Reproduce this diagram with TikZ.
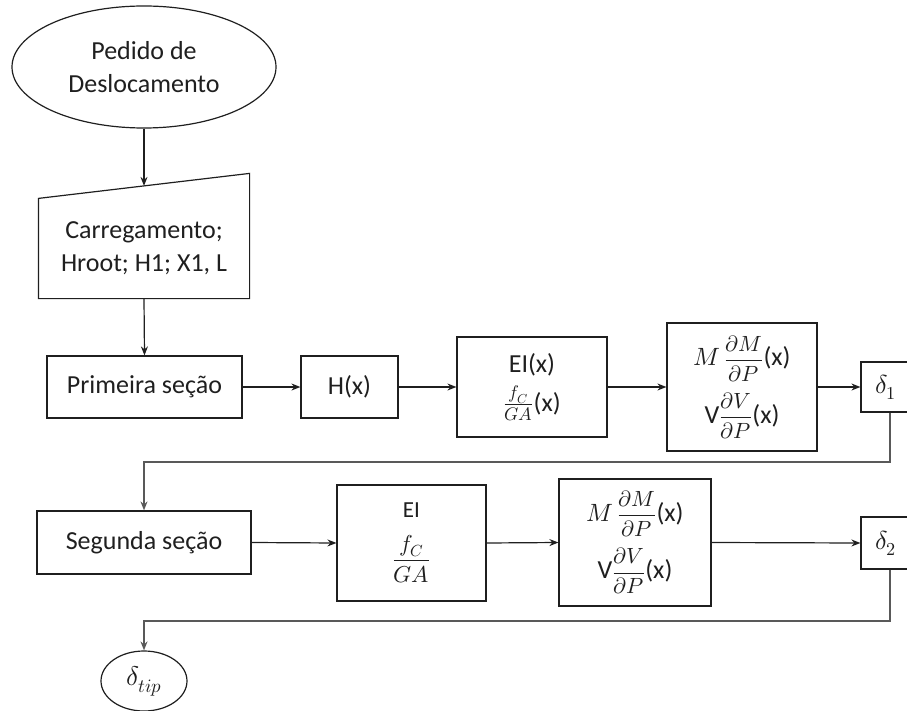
\documentclass[tikz,border=0pt]{standalone}
\usepackage{fontspec}
\usepackage{unicode-math}
\setmainfont{Carlito}
\setmathfont{Latin Modern Math}
\usetikzlibrary{shapes.geometric,arrows.meta,calc}

\definecolor{ink}{HTML}{1F1F1F}
\definecolor{wire}{HTML}{595959}

% math set a little smaller than the text, fractions in display style
\newcommand{\mth}[1]{{\fontsize{22}{26}\selectfont$\displaystyle #1$}}
\newcommand{\bigM}{{\fontsize{25}{26}\selectfont$M$}}

\tikzset{
  base/.style={draw=ink, text=ink, line width=1.2pt, inner sep=0pt, align=center,
               font=\fontsize{26}{33}\selectfont},
  box/.style={base, rectangle},
  oval/.style={base, ellipse},
  ghost/.style={base, draw=none},
  arr/.style={draw=ink, line width=1.2pt, -{Stealth[length=9pt,width=7pt]}},
  elbow/.style={draw=wire, line width=1.4pt, -{Stealth[length=9pt,width=7pt]}},
}

\begin{document}
\begin{tikzpicture}[x=1pt,y=-1pt]
\useasboundingbox (0,0) rectangle (907,711);

% start / input
\node[oval, minimum width=264, minimum height=122] (start) at (144,67) {Pedido de\\Deslocamento};
\node[ghost, minimum width=210, minimum height=99] (inp) at (144,248.5) {Carregamento;\\Hroot; H1; X1, L};
\draw[draw=ink, line width=1.2pt, line join=miter]
  (inp.south west) -- (inp.south east) -- ([yshift=25pt]inp.north east) -- (inp.north west) -- cycle;
\coordinate (inptop) at ($(inp.north)+(0,-12.5)$);

% first section
\node[box, minimum width=195, minimum height=62] (prim) at (144.5,387) {Primeira seção};
\node[box, minimum width=97, minimum height=62] (hx) at (349.5,387) {H(x)};
\node[box, minimum width=150, minimum height=100] (ei1) at (532,387)
  {EI(x)\\[6pt]$\frac{f_C}{GA}$(x)};
\node[box, minimum width=150, minimum height=128] (m1) at (742,387)
  {\bigM\,\mth{\frac{\partial M}{\partial P}}(x)\\[10pt]V\mth{\frac{\partial V}{\partial P}}(x)};
\node[box, minimum width=50, minimum height=50] (d1) at (886,387) {$\delta_1$};

% second section
\node[box, minimum width=214, minimum height=63] (seg) at (144,542.5) {Segunda seção};
\node[box, minimum width=149, minimum height=116, font=\fontsize{23}{27}\selectfont] (ei2) at (411.5,543)
  {EI\\[16pt]$\displaystyle\frac{f_C}{GA}$};
\node[box, minimum width=152, minimum height=127] (m2) at (635,542.5)
  {\bigM\,\mth{\frac{\partial M}{\partial P}}(x)\\[10pt]V\mth{\frac{\partial V}{\partial P}}(x)};
\node[box, minimum width=50, minimum height=52] (d2) at (886,543) {$\delta_2$};

% result
\node[oval, minimum width=86, minimum height=60, font=\fontsize{27}{30}\selectfont] (tip) at (144,681) {$\delta_{tip}$};

% flow
\draw[arr] (start.south) -- (inptop);
\draw[arr] (inp.south) -- (prim.north);
\draw[arr] (prim.east) -- (hx.west);
\draw[arr] (hx.east) -- (ei1.west);
\draw[arr] (ei1.east) -- (m1.west);
\draw[arr] (m1.east) -- (d1.west);

\coordinate (d1o) at ([xshift=4pt]d1.south);
\coordinate (turn1) at (0,462);
\draw[elbow] (d1o) |- (seg.north |- turn1) -- (seg.north);

\draw[arr] (seg.east) -- (ei2.west);
\draw[arr] (ei2.east) -- (m2.west);
\draw[arr] (m2.east) -- (d2.west);

\coordinate (d2o) at ([xshift=4pt]d2.south);
\coordinate (turn2) at (0,621);
\draw[elbow] (d2o) |- (tip.north |- turn2) -- (tip.north);
\end{tikzpicture}
\end{document}
